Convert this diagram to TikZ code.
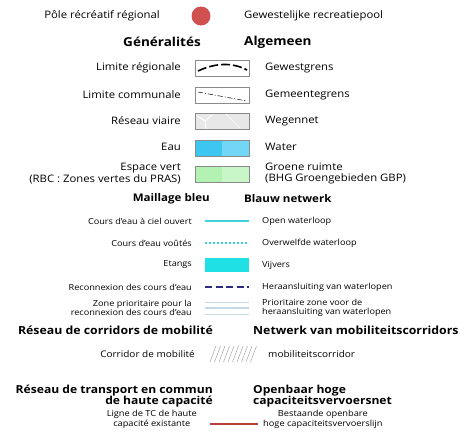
\documentclass[tikz,border=0pt]{standalone}
\usepackage{fontspec}
\setmainfont{Open Sans}[FakeStretch=1.1]
\usepackage{xcolor}
\usetikzlibrary{positioning}
\definecolor{lred}{HTML}{D05050}
\definecolor{lwater}{HTML}{3CC6F0}
\definecolor{lwaterb}{HTML}{72D6F6}
\definecolor{lgreen}{HTML}{B4F2B4}
\definecolor{lgreenb}{HTML}{C8F6C8}
\definecolor{lcyan}{HTML}{3ED2DE}
\definecolor{lpond}{HTML}{1FE0E4}
\definecolor{lnavy}{HTML}{2B2C7E}
\definecolor{lprio}{HTML}{C4D8E6}
\definecolor{ltram}{HTML}{B8403C}
\definecolor{lframe}{HTML}{8A8A8A}

\begin{document}
\begin{tikzpicture}[x=1pt,y=-1pt,
  fr/.style={font=\fontsize{10.3}{11}\selectfont,anchor=east,inner sep=0pt,align=right},
  nl/.style={font=\fontsize{10.3}{11}\selectfont,anchor=west,inner sep=0pt,align=left},
  frs/.style={font=\fontsize{8.3}{9.4}\selectfont,anchor=east,inner sep=0pt,align=right},
  nls/.style={font=\fontsize{8.3}{9.4}\selectfont,anchor=west,inner sep=0pt,align=left},
  head/.style={font=\fontsize{11.2}{11.5}\selectfont\bfseries,inner sep=0pt},
  swatch/.style={draw=lframe,line width=0.5pt}]
\useasboundingbox[fill=white] (0,0) rectangle (473,437);

% ================= recreational pole =================
\node[fr] (pole) at (160,16) {Pôle récréatif régional};
\fill[lred] (201,16) circle (9.5);
\node[nl] (poolnl) at (244,16) {Gewestelijke recreatiepool};

% ================= general =================
\node[head,anchor=east,font=\fontsize{12.3}{12}\selectfont\bfseries] (gen) at (201,42) {Généralités};
\node[head,anchor=west,font=\fontsize{12.3}{12}\selectfont\bfseries] (alg) at (244,42) {Algemeen};

\node[fr] (reg) at (181,68) {Limite régionale};
\draw[swatch] (195,60) rectangle (249,76);
\draw[black,line width=1.6pt,dash pattern=on 9pt off 3pt] (198,71) .. controls (215,63) and (232,62) .. (247,70);
\node[nl] (regnl) at (265,68) {Gewestgrens};

\node[fr] (com) at (181,95) {Limite communale};
\draw[swatch] (195,87) rectangle (249,103);
\draw[black,line width=0.5pt,dash pattern=on 5pt off 2pt on 1pt off 2pt] (198,92) -- (247,101);
\node[nl] (comnl) at (265,95) {Gemeentegrens};

\node[fr] (road) at (181,121) {Réseau viaire};
\draw[swatch,fill=black!9] (195,113) rectangle (249,129);
\draw[white,line width=1pt] (197,116) -- (205,121) -- (212,115);
\draw[white,line width=0.8pt] (205,121) -- (206,129);
\draw[white,line width=0.6pt] (226,114) -- (240,128);
\node[nl] (roadnl) at (265,121) {Wegennet};

\node[fr] (eau) at (181,147) {Eau};
\fill[lwater] (195,140) rectangle (222,156);
\fill[lwaterb] (222,140) rectangle (249,156);
\draw[swatch] (195,140) rectangle (249,156);
\node[nl] (eaunl) at (265,147) {Water};

\node[fr,font=\fontsize{10.3}{10.2}\selectfont] (vert) at (181,173.5) {Espace vert\\(RBC : Zones vertes du PRAS)};
\fill[lgreen] (195,166) rectangle (222,182);
\fill[lgreenb] (222,166) rectangle (249,182);
\draw[swatch] (195,166) rectangle (249,182);
\node[nl,font=\fontsize{10.3}{10.2}\selectfont] (vertnl) at (265,173.5) {Groene ruimte\\(BHG Groengebieden GBP)};

% ================= blue network =================
\node[head,anchor=east,font=\fontsize{10.5}{11}\selectfont\bfseries] (blue) at (210,199) {Maillage bleu};
\node[head,anchor=west,font=\fontsize{10.5}{11}\selectfont\bfseries] (bluenl) at (244,199) {Blauw netwerk};

\node[frs] (open) at (192,221) {Cours d'eau à ciel ouvert};
\draw[lcyan,line width=1.5pt] (205,221) -- (249,221);
\node[nls] (opennl) at (262,221) {Open waterloop};

\node[frs] (vout) at (192,243) {Cours d'eau voûtés};
\draw[lcyan,line width=1.3pt,dash pattern=on 2pt off 2pt] (205,243) -- (249,243);
\node[nls] (voutnl) at (262,243) {Overwelfde waterloop};

\node[frs] (etang) at (192,265) {Etangs};
\fill[lpond] (205,258) rectangle (249,272);
\node[nls] (etangnl) at (262,265) {Vijvers};

\node[frs] (reco) at (192,287) {Reconnexion des cours d'eau};
\draw[lnavy,line width=2pt,dash pattern=on 7pt off 3.5pt] (205,287) -- (249,287);
\node[nls] (reconl) at (262,287) {Heraansluiting van waterlopen};

\node[frs,font=\fontsize{8.3}{8.8}\selectfont] (prio) at (192,308) {Zone prioritaire pour la\\reconnexion des cours d'eau};
\draw[lprio,line width=0.8pt] (205,302) -- (249,302);
\draw[lprio,line width=1.2pt] (205,308) -- (249,308);
\draw[lprio,line width=1.4pt] (205,314.5) -- (249,314.5);
\node[nls,font=\fontsize{8.3}{8.8}\selectfont] (prionl) at (262,308) {Prioritaire zone voor de\\heraansluiting van waterlopen};

% ================= mobility corridors =================
\node[head,anchor=east] (corr) at (213,330) {Réseau de corridors de mobilité};
\node[head,anchor=west] (corrnl) at (253,330) {Netwerk van mobiliteitscorridors};

\node[fr,font=\fontsize{9.1}{10}\selectfont] (mob) at (195,354) {Corridor de mobilité};
\foreach \i in {0,...,9}
  \draw[black!30,line width=0.6pt] (210+4.5*\i,362) -- (216+4.5*\i,346);
\node[nl,font=\fontsize{9.1}{10}\selectfont] (mobnl) at (268,354) {mobiliteitscorridor};

% ================= high capacity public transport =================
\node[head,anchor=east,align=right,font=\fontsize{11}{11.5}\selectfont\bfseries] (tc) at (213,396) {Réseau de transport en commun\\de haute capacité};
\node[head,anchor=west,align=left,font=\fontsize{11}{11.5}\selectfont\bfseries] (tcnl) at (253,396) {Openbaar hoge\\capaciteitsvervoersnet};

\node[fr,font=\fontsize{8.4}{10}\selectfont,align=center] (ligne) at (197,419.5) {Ligne de TC de haute\\capacité existante};
\draw[ltram,line width=2.4pt] (210,424) -- (258,424);
\node[nl,font=\fontsize{8.4}{10}\selectfont,align=center] (lijn) at (263,419.5) {Bestaande openbare\\hoge capaciteitsvervoerslijn};
\end{tikzpicture}
\end{document}
